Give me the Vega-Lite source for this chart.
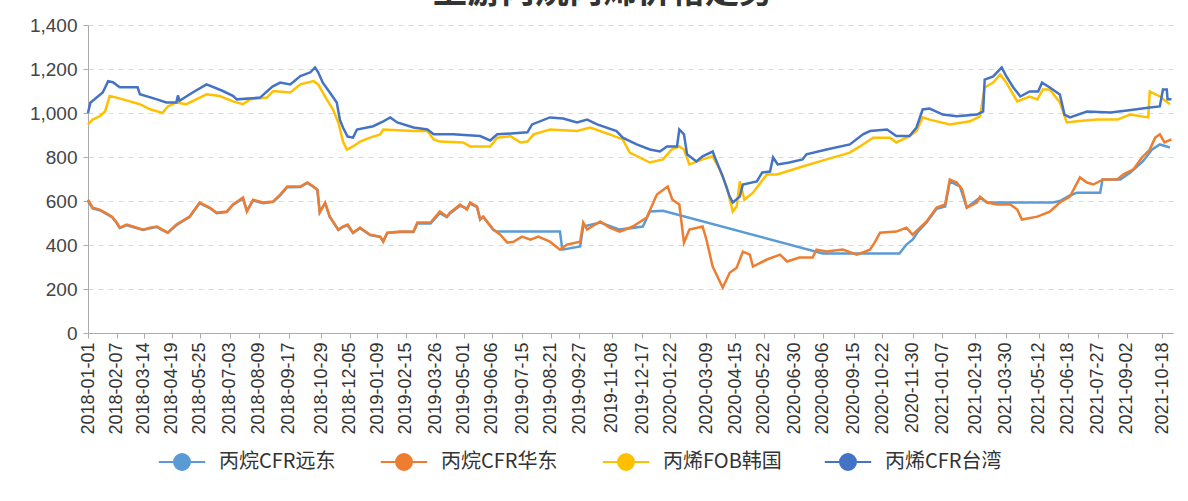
{
  "$schema": "https://vega.github.io/schema/vega-lite/v6.json",
  "autosize": {"type": "none"},
  "width": 1085,
  "height": 308,
  "padding": {"left": 88, "top": 25, "right": 15, "bottom": 168},
  "background": "#ffffff",
  "title": {
    "text": "上游丙烷丙烯价格走势",
    "font": "Noto Sans CJK SC",
    "fontSize": 34,
    "fontWeight": "bold",
    "color": "#333333",
    "anchor": "middle",
    "frame": "bounds",
    "baseline": "top",
    "offset": 6
  },
  "datasets": {
    "fe": [
      {"d":"2018-01-01","v":600},{"d":"2018-01-07","v":566},{"d":"2018-01-16","v":558},{"d":"2018-01-23","v":545},{"d":"2018-02-01","v":527},{"d":"2018-02-07","v":500},{"d":"2018-02-11","v":477},{"d":"2018-02-20","v":490},{"d":"2018-02-28","v":482},{"d":"2018-03-13","v":468},{"d":"2018-03-22","v":476},{"d":"2018-03-31","v":482},{"d":"2018-04-07","v":468},{"d":"2018-04-14","v":456},{"d":"2018-04-25","v":490},{"d":"2018-05-12","v":527},{"d":"2018-05-25","v":590},{"d":"2018-06-07","v":568},{"d":"2018-06-16","v":545},{"d":"2018-06-29","v":550},{"d":"2018-07-07","v":582},{"d":"2018-07-20","v":612},{"d":"2018-07-25","v":556},{"d":"2018-08-02","v":603},{"d":"2018-08-15","v":590},{"d":"2018-08-28","v":596},{"d":"2018-09-06","v":626},{"d":"2018-09-15","v":663},{"d":"2018-10-02","v":664},{"d":"2018-10-11","v":682},{"d":"2018-10-19","v":664},{"d":"2018-10-24","v":650},{"d":"2018-10-27","v":550},{"d":"2018-11-03","v":590},{"d":"2018-11-09","v":527},{"d":"2018-11-20","v":468},{"d":"2018-11-26","v":482},{"d":"2018-12-02","v":490},{"d":"2018-12-09","v":454},{"d":"2018-12-18","v":476},{"d":"2018-12-31","v":445},{"d":"2019-01-13","v":436},{"d":"2019-01-17","v":418},{"d":"2019-01-22","v":454},{"d":"2019-02-08","v":459},{"d":"2019-02-25","v":459},{"d":"2019-03-02","v":498},{"d":"2019-03-19","v":498},{"d":"2019-03-31","v":545},{"d":"2019-04-09","v":527},{"d":"2019-04-13","v":543},{"d":"2019-04-26","v":578},{"d":"2019-05-05","v":566},{"d":"2019-05-09","v":588},{"d":"2019-05-18","v":572},{"d":"2019-05-22","v":516},{"d":"2019-05-26","v":527},{"d":"2019-06-08","v":468},{"d":"2019-06-13","v":461},{"d":"2019-09-02","v":461},{"d":"2019-09-05","v":379},{"d":"2019-09-28","v":393},{"d":"2019-10-02","v":484},{"d":"2019-10-24","v":502},{"d":"2019-11-18","v":470},{"d":"2019-12-18","v":484},{"d":"2019-12-27","v":552},{"d":"2020-01-13","v":556},{"d":"2020-08-06","v":361},{"d":"2020-11-13","v":361},{"d":"2020-11-22","v":402},{"d":"2020-11-30","v":424},{"d":"2020-12-07","v":461},{"d":"2020-12-18","v":502},{"d":"2020-12-31","v":565},{"d":"2021-01-11","v":575},{"d":"2021-01-17","v":689},{"d":"2021-01-30","v":666},{"d":"2021-02-08","v":570},{"d":"2021-02-25","v":616},{"d":"2021-03-06","v":593},{"d":"2021-05-30","v":593},{"d":"2021-06-08","v":600},{"d":"2021-06-21","v":625},{"d":"2021-06-30","v":638},{"d":"2021-07-30","v":638},{"d":"2021-08-02","v":698},{"d":"2021-08-25","v":698},{"d":"2021-09-07","v":730},{"d":"2021-09-23","v":780},{"d":"2021-10-05","v":834},{"d":"2021-10-15","v":857},{"d":"2021-10-28","v":843}
    ],
    "ec": [
      {"d":"2018-01-01","v":606},{"d":"2018-01-07","v":570},{"d":"2018-01-16","v":561},{"d":"2018-01-23","v":547},{"d":"2018-02-01","v":529},{"d":"2018-02-07","v":502},{"d":"2018-02-11","v":479},{"d":"2018-02-20","v":493},{"d":"2018-02-28","v":484},{"d":"2018-03-13","v":470},{"d":"2018-03-22","v":479},{"d":"2018-03-31","v":484},{"d":"2018-04-07","v":470},{"d":"2018-04-14","v":456},{"d":"2018-04-25","v":493},{"d":"2018-05-12","v":529},{"d":"2018-05-25","v":593},{"d":"2018-06-07","v":570},{"d":"2018-06-16","v":547},{"d":"2018-06-29","v":552},{"d":"2018-07-07","v":584},{"d":"2018-07-20","v":616},{"d":"2018-07-25","v":552},{"d":"2018-08-02","v":606},{"d":"2018-08-15","v":593},{"d":"2018-08-28","v":598},{"d":"2018-09-06","v":629},{"d":"2018-09-15","v":666},{"d":"2018-10-02","v":666},{"d":"2018-10-11","v":684},{"d":"2018-10-19","v":666},{"d":"2018-10-24","v":652},{"d":"2018-10-27","v":547},{"d":"2018-11-03","v":593},{"d":"2018-11-09","v":529},{"d":"2018-11-20","v":470},{"d":"2018-11-26","v":484},{"d":"2018-12-02","v":493},{"d":"2018-12-09","v":456},{"d":"2018-12-18","v":479},{"d":"2018-12-31","v":447},{"d":"2019-01-13","v":438},{"d":"2019-01-17","v":415},{"d":"2019-01-22","v":456},{"d":"2019-02-08","v":461},{"d":"2019-02-25","v":461},{"d":"2019-03-02","v":502},{"d":"2019-03-19","v":502},{"d":"2019-03-31","v":552},{"d":"2019-04-09","v":529},{"d":"2019-04-13","v":547},{"d":"2019-04-26","v":584},{"d":"2019-05-05","v":561},{"d":"2019-05-09","v":593},{"d":"2019-05-18","v":575},{"d":"2019-05-22","v":516},{"d":"2019-05-26","v":529},{"d":"2019-06-08","v":470},{"d":"2019-06-17","v":447},{"d":"2019-06-26","v":411},{"d":"2019-07-04","v":415},{"d":"2019-07-15","v":438},{"d":"2019-07-26","v":424},{"d":"2019-08-05","v":438},{"d":"2019-08-20","v":415},{"d":"2019-09-02","v":379},{"d":"2019-09-11","v":402},{"d":"2019-09-28","v":415},{"d":"2019-10-02","v":502},{"d":"2019-10-07","v":470},{"d":"2019-10-24","v":507},{"d":"2019-11-05","v":479},{"d":"2019-11-18","v":461},{"d":"2019-12-05","v":484},{"d":"2019-12-23","v":525},{"d":"2020-01-05","v":629},{"d":"2020-01-19","v":666},{"d":"2020-01-25","v":606},{"d":"2020-02-03","v":584},{"d":"2020-02-09","v":411},{"d":"2020-02-16","v":470},{"d":"2020-03-04","v":484},{"d":"2020-03-09","v":424},{"d":"2020-03-17","v":302},{"d":"2020-03-30","v":206},{"d":"2020-04-08","v":274},{"d":"2020-04-17","v":297},{"d":"2020-04-25","v":370},{"d":"2020-05-04","v":356},{"d":"2020-05-08","v":302},{"d":"2020-05-26","v":334},{"d":"2020-06-12","v":356},{"d":"2020-06-21","v":325},{"d":"2020-07-07","v":343},{"d":"2020-07-24","v":343},{"d":"2020-07-29","v":379},{"d":"2020-08-11","v":370},{"d":"2020-09-01","v":379},{"d":"2020-09-19","v":356},{"d":"2020-10-06","v":379},{"d":"2020-10-12","v":411},{"d":"2020-10-19","v":456},{"d":"2020-11-09","v":461},{"d":"2020-11-22","v":479},{"d":"2020-11-30","v":447},{"d":"2020-12-18","v":507},{"d":"2020-12-31","v":570},{"d":"2021-01-11","v":584},{"d":"2021-01-17","v":698},{"d":"2021-01-26","v":684},{"d":"2021-02-02","v":652},{"d":"2021-02-08","v":570},{"d":"2021-02-21","v":593},{"d":"2021-02-25","v":620},{"d":"2021-03-06","v":593},{"d":"2021-03-19","v":584},{"d":"2021-04-05","v":584},{"d":"2021-04-14","v":561},{"d":"2021-04-20","v":516},{"d":"2021-05-10","v":529},{"d":"2021-05-26","v":552},{"d":"2021-06-08","v":593},{"d":"2021-06-21","v":620},{"d":"2021-07-04","v":707},{"d":"2021-07-13","v":684},{"d":"2021-07-21","v":675},{"d":"2021-08-03","v":698},{"d":"2021-08-21","v":698},{"d":"2021-08-29","v":721},{"d":"2021-09-11","v":744},{"d":"2021-09-22","v":798},{"d":"2021-10-02","v":834},{"d":"2021-10-09","v":888},{"d":"2021-10-15","v":903},{"d":"2021-10-21","v":866},{"d":"2021-10-30","v":880}
    ],
    "kr": [
      {"d":"2018-01-01","v":948},{"d":"2018-01-07","v":970},{"d":"2018-01-16","v":985},{"d":"2018-01-23","v":1007},{"d":"2018-01-29","v":1077},{"d":"2018-02-07","v":1070},{"d":"2018-02-24","v":1053},{"d":"2018-03-09","v":1040},{"d":"2018-03-22","v":1017},{"d":"2018-04-01","v":1007},{"d":"2018-04-07","v":1000},{"d":"2018-04-14","v":1030},{"d":"2018-04-25","v":1048},{"d":"2018-05-08","v":1040},{"d":"2018-06-03","v":1085},{"d":"2018-06-20","v":1077},{"d":"2018-07-07","v":1053},{"d":"2018-07-20","v":1040},{"d":"2018-07-29","v":1062},{"d":"2018-08-20","v":1070},{"d":"2018-08-28","v":1100},{"d":"2018-09-19","v":1093},{"d":"2018-10-02","v":1130},{"d":"2018-10-19","v":1145},{"d":"2018-10-25","v":1130},{"d":"2018-11-05","v":1062},{"d":"2018-11-13","v":1017},{"d":"2018-11-20","v":957},{"d":"2018-11-26","v":870},{"d":"2018-12-01","v":834},{"d":"2018-12-09","v":848},{"d":"2018-12-18","v":870},{"d":"2018-12-31","v":888},{"d":"2019-01-13","v":903},{"d":"2019-01-17","v":925},{"d":"2019-02-25","v":918},{"d":"2019-03-15","v":918},{"d":"2019-03-23","v":880},{"d":"2019-03-31","v":870},{"d":"2019-04-30","v":866},{"d":"2019-05-09","v":848},{"d":"2019-06-04","v":848},{"d":"2019-06-13","v":888},{"d":"2019-06-30","v":895},{"d":"2019-07-13","v":866},{"d":"2019-07-22","v":870},{"d":"2019-07-30","v":903},{"d":"2019-08-20","v":925},{"d":"2019-09-24","v":918},{"d":"2019-10-11","v":934},{"d":"2019-11-05","v":903},{"d":"2019-11-22","v":880},{"d":"2019-12-01","v":820},{"d":"2019-12-27","v":775},{"d":"2020-01-13","v":789},{"d":"2020-01-24","v":834},{"d":"2020-02-03","v":848},{"d":"2020-02-09","v":834},{"d":"2020-02-16","v":766},{"d":"2020-03-04","v":789},{"d":"2020-03-17","v":803},{"d":"2020-03-26","v":744},{"d":"2020-04-04","v":666},{"d":"2020-04-12","v":552},{"d":"2020-04-17","v":575},{"d":"2020-04-21","v":689},{"d":"2020-04-27","v":606},{"d":"2020-05-08","v":638},{"d":"2020-05-26","v":721},{"d":"2020-06-08","v":721},{"d":"2020-07-11","v":757},{"d":"2020-08-11","v":789},{"d":"2020-09-10","v":820},{"d":"2020-09-23","v":848},{"d":"2020-10-10","v":888},{"d":"2020-11-01","v":888},{"d":"2020-11-09","v":866},{"d":"2020-11-26","v":895},{"d":"2020-12-05","v":918},{"d":"2020-12-13","v":980},{"d":"2020-12-22","v":970},{"d":"2021-01-17","v":948},{"d":"2021-02-12","v":962},{"d":"2021-02-25","v":985},{"d":"2021-03-03","v":1116},{"d":"2021-03-14","v":1138},{"d":"2021-03-23","v":1175},{"d":"2021-03-31","v":1138},{"d":"2021-04-14","v":1053},{"d":"2021-04-30","v":1075},{"d":"2021-05-10","v":1062},{"d":"2021-05-17","v":1107},{"d":"2021-05-26","v":1107},{"d":"2021-06-08","v":1048},{"d":"2021-06-17","v":957},{"d":"2021-06-30","v":962},{"d":"2021-07-26","v":970},{"d":"2021-08-21","v":970},{"d":"2021-09-07","v":993},{"d":"2021-09-30","v":980},{"d":"2021-10-02","v":1098},{"d":"2021-10-15","v":1075},{"d":"2021-10-28","v":1040}
    ],
    "tw": [
      {"d":"2018-01-01","v":1000},{"d":"2018-01-04","v":1047},{"d":"2018-01-20","v":1093},{"d":"2018-01-27","v":1145},{"d":"2018-02-02","v":1140},{"d":"2018-02-11","v":1117},{"d":"2018-03-06","v":1117},{"d":"2018-03-09","v":1085},{"d":"2018-03-31","v":1062},{"d":"2018-04-12","v":1048},{"d":"2018-04-25","v":1048},{"d":"2018-04-27","v":1080},{"d":"2018-04-29","v":1055},{"d":"2018-05-16","v":1093},{"d":"2018-06-03","v":1130},{"d":"2018-06-24","v":1100},{"d":"2018-07-07","v":1078},{"d":"2018-07-12","v":1062},{"d":"2018-08-11","v":1070},{"d":"2018-08-27","v":1120},{"d":"2018-09-06","v":1138},{"d":"2018-09-19","v":1130},{"d":"2018-10-02","v":1168},{"d":"2018-10-15","v":1185},{"d":"2018-10-21","v":1207},{"d":"2018-10-25","v":1185},{"d":"2018-10-31","v":1138},{"d":"2018-11-09","v":1093},{"d":"2018-11-18","v":1048},{"d":"2018-11-22","v":970},{"d":"2018-11-26","v":934},{"d":"2018-12-02","v":893},{"d":"2018-12-09","v":888},{"d":"2018-12-14","v":925},{"d":"2019-01-04","v":940},{"d":"2019-01-17","v":962},{"d":"2019-01-26","v":980},{"d":"2019-02-04","v":957},{"d":"2019-02-25","v":934},{"d":"2019-03-15","v":925},{"d":"2019-03-23","v":903},{"d":"2019-04-17","v":903},{"d":"2019-05-22","v":895},{"d":"2019-06-04","v":875},{"d":"2019-06-13","v":903},{"d":"2019-07-22","v":912},{"d":"2019-07-28","v":948},{"d":"2019-08-20","v":980},{"d":"2019-09-06","v":975},{"d":"2019-09-24","v":957},{"d":"2019-10-07","v":970},{"d":"2019-10-20","v":948},{"d":"2019-11-14","v":918},{"d":"2019-11-22","v":888},{"d":"2019-12-10","v":857},{"d":"2019-12-27","v":834},{"d":"2020-01-09","v":825},{"d":"2020-01-18","v":848},{"d":"2020-01-31","v":848},{"d":"2020-02-03","v":925},{"d":"2020-02-09","v":903},{"d":"2020-02-13","v":812},{"d":"2020-02-25","v":780},{"d":"2020-03-04","v":803},{"d":"2020-03-17","v":825},{"d":"2020-03-22","v":780},{"d":"2020-03-30","v":712},{"d":"2020-04-08","v":620},{"d":"2020-04-12","v":593},{"d":"2020-04-21","v":620},{"d":"2020-04-25","v":675},{"d":"2020-05-13","v":689},{"d":"2020-05-20","v":730},{"d":"2020-05-30","v":734},{"d":"2020-06-03","v":798},{"d":"2020-06-09","v":766},{"d":"2020-06-24","v":775},{"d":"2020-07-11","v":789},{"d":"2020-07-16","v":812},{"d":"2020-08-11","v":834},{"d":"2020-09-10","v":857},{"d":"2020-09-27","v":903},{"d":"2020-10-06","v":918},{"d":"2020-10-28","v":925},{"d":"2020-11-09","v":895},{"d":"2020-11-26","v":895},{"d":"2020-12-05","v":934},{"d":"2020-12-13","v":1016},{"d":"2020-12-22","v":1020},{"d":"2021-01-08","v":993},{"d":"2021-01-26","v":985},{"d":"2021-02-21","v":993},{"d":"2021-03-01","v":1007},{"d":"2021-03-03","v":1152},{"d":"2021-03-14","v":1166},{"d":"2021-03-25","v":1207},{"d":"2021-03-31","v":1166},{"d":"2021-04-09","v":1116},{"d":"2021-04-18","v":1075},{"d":"2021-04-30","v":1098},{"d":"2021-05-11","v":1098},{"d":"2021-05-16","v":1138},{"d":"2021-05-26","v":1116},{"d":"2021-06-08","v":1084},{"d":"2021-06-14","v":993},{"d":"2021-06-21","v":980},{"d":"2021-07-13","v":1007},{"d":"2021-08-12","v":1002},{"d":"2021-09-03","v":1011},{"d":"2021-10-02","v":1025},{"d":"2021-10-15","v":1030},{"d":"2021-10-19","v":1107},{"d":"2021-10-24","v":1107},{"d":"2021-10-25","v":1062},{"d":"2021-10-30","v":1062}
    ]
  },
  "encoding": {
    "x": {
      "field": "d",
      "type": "temporal",
      "scale": {"domain": [{"year": 2018, "month": 1, "date": 1}, {"year": 2021, "month": 11, "date": 1}], "nice": false},
      "axis": {
        "title": null,
        "grid": false,
        "format": "%Y-%m-%d",
        "labelAngle": 270,
        "labelOverlap": false,
        "labelFlush": false,
        "labelFont": "Liberation Sans",
        "labelFontSize": 18,
        "labelColor": "#333333",
        "labelPadding": 4,
        "tickSize": 5,
        "tickColor": "#aaaaaa",
        "domainColor": "#aaaaaa",
        "values": [
          {"year":2018,"month":1,"date":1},{"year":2018,"month":2,"date":7},{"year":2018,"month":3,"date":14},{"year":2018,"month":4,"date":19},{"year":2018,"month":5,"date":25},{"year":2018,"month":7,"date":3},{"year":2018,"month":8,"date":9},{"year":2018,"month":9,"date":17},{"year":2018,"month":10,"date":29},{"year":2018,"month":12,"date":5},
          {"year":2019,"month":1,"date":9},{"year":2019,"month":2,"date":15},{"year":2019,"month":3,"date":26},{"year":2019,"month":5,"date":1},{"year":2019,"month":6,"date":6},{"year":2019,"month":7,"date":15},{"year":2019,"month":8,"date":21},{"year":2019,"month":9,"date":27},{"year":2019,"month":11,"date":8},{"year":2019,"month":12,"date":17},
          {"year":2020,"month":1,"date":22},{"year":2020,"month":3,"date":9},{"year":2020,"month":4,"date":15},{"year":2020,"month":5,"date":22},{"year":2020,"month":6,"date":30},{"year":2020,"month":8,"date":6},{"year":2020,"month":9,"date":15},{"year":2020,"month":10,"date":22},{"year":2020,"month":11,"date":30},
          {"year":2021,"month":1,"date":7},{"year":2021,"month":2,"date":19},{"year":2021,"month":3,"date":30},{"year":2021,"month":5,"date":12},{"year":2021,"month":6,"date":18},{"year":2021,"month":7,"date":27},{"year":2021,"month":9,"date":2},{"year":2021,"month":10,"date":18}
        ]
      }
    },
    "y": {
      "field": "v",
      "type": "quantitative",
      "scale": {"domain": [0, 1400], "nice": false},
      "axis": {
        "title": null,
        "values": [0, 200, 400, 600, 800, 1000, 1200, 1400],
        "format": ",.0f",
        "labelFont": "Liberation Sans",
        "labelFontSize": 19,
        "labelColor": "#444444",
        "labelPadding": 6,
        "tickSize": 5,
        "tickColor": "#aaaaaa",
        "domainColor": "#aaaaaa",
        "gridColor": "#d9d9d9",
        "gridDash": [5, 5]
      }
    },
    "color": {
      "type": "nominal",
      "scale": {
        "domain": ["丙烷CFR远东", "丙烷CFR华东", "丙烯FOB韩国", "丙烯CFR台湾"],
        "range": ["#5B9BD5", "#ED7D31", "#FFC000", "#4472C4"]
      },
      "legend": {
        "title": null,
        "orient": "none",
        "direction": "horizontal",
        "legendX": 84,
        "legendY": 427,
        "symbolType": "M-2.9,0H-1M1,0H2.9M1,0A1,1,0,1,1,-1,0A1,1,0,1,1,1,0Z",
        "symbolSize": 256,
        "symbolStrokeWidth": 2,
        "labelOffset": 27,
        "labelFont": "Noto Sans CJK SC",
        "labelFontSize": 20,
        "labelColor": "#333333",
        "columnPadding": 38,
        "gridAlign": "all",
        "encode": {
          "symbols": {
            "update": {
              "fill": {"scale": "color", "field": "value"},
              "stroke": {"scale": "color", "field": "value"},
              "opacity": {"value": 1}
            }
          }
        }
      }
    }
  },
  "layer": [
    {"data": {"name": "fe"}, "mark": {"type": "line", "strokeWidth": 2.5}, "encoding": {"color": {"datum": "丙烷CFR远东"}}},
    {"data": {"name": "ec"}, "mark": {"type": "line", "strokeWidth": 2.5}, "encoding": {"color": {"datum": "丙烷CFR华东"}}},
    {"data": {"name": "kr"}, "mark": {"type": "line", "strokeWidth": 2.5}, "encoding": {"color": {"datum": "丙烯FOB韩国"}}},
    {"data": {"name": "tw"}, "mark": {"type": "line", "strokeWidth": 2.5}, "encoding": {"color": {"datum": "丙烯CFR台湾"}}}
  ],
  "config": {
    "view": {"stroke": null}
  }
}
